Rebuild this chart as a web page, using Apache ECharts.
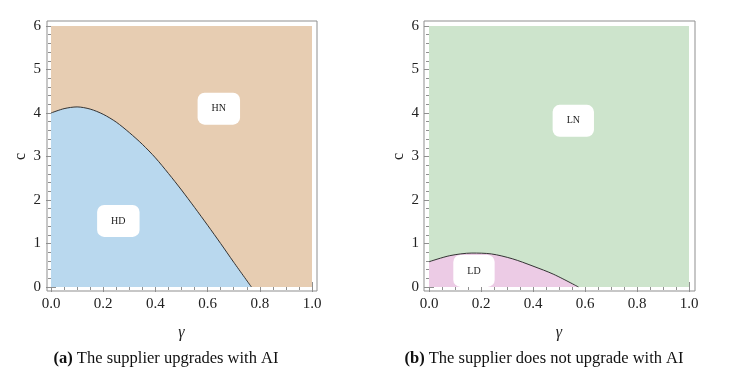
<!DOCTYPE html>
<html>
<head>
<meta charset="utf-8">
<script src="https://cdn.jsdelivr.net/npm/echarts@6/dist/echarts.min.js"></script>
<style>
  html, body { margin: 0; padding: 0; background: #fff; }
  #chart { width: 745px; height: 372px; }
</style>
</head>
<body>
<div id="chart"></div>
<script>
// region boundaries: [gamma, c]
var upgradeBoundary = [
  [0.00, 4.00], [0.05, 4.10], [0.10, 4.14], [0.15, 4.09], [0.20, 3.97],
  [0.25, 3.79], [0.30, 3.55], [0.35, 3.28], [0.40, 2.97], [0.45, 2.61],
  [0.50, 2.23], [0.55, 1.83], [0.60, 1.42], [0.65, 1.00], [0.70, 0.57],
  [0.768, 0.00]
]
var noUpgradeBoundary = [
  [0.00, 0.58], [0.08, 0.72], [0.165, 0.78], [0.24, 0.76], [0.32, 0.65],
  [0.40, 0.48], [0.48, 0.29], [0.575, 0.00]
]
// whole plot range (upper region)
var fullRange = [[0, 6], [1, 6]]
// region labels: [name, gamma, c]
var upgradeLabels = [["HN", 0.643, 4.1], ["HD", 0.258, 1.52]]
var noUpgradeLabels = [["LN", 0.555, 3.82], ["LD", 0.173, 0.37]]
var captions = [["(a)", "The supplier upgrades with AI"], ["(b)", "The supplier does not upgrade with AI"]]

var serif = "Liberation Serif"
var frameColor = "#8f8f8f"

var chart = echarts.init(document.getElementById("chart"))

// 两个子图的数据区与外框
var dataGrids = [
  { left: 51, top: 26, width: 261, height: 261 },
  { left: 429, top: 26, width: 260, height: 261 }
]
var frameGrids = [
  { left: 47, top: 21, width: 270, height: 270 },
  { left: 424, top: 21, width: 271, height: 270 }
]

var grids = [], xAxes = [], yAxes = []
dataGrids.forEach(function (g) { grids.push(Object.assign({ show: false }, g)) })
frameGrids.forEach(function (g) {
  grids.push(Object.assign({ show: true, borderColor: frameColor, borderWidth: 1, backgroundColor: "transparent" }, g))
})

function tickAxis(gridIndex, pos, offset, isX, showLabel) {
  var ax = {
    type: "value",
    gridIndex: gridIndex,
    position: pos,
    offset: offset,
    min: 0,
    max: isX ? 1 : 6,
    interval: isX ? 0.2 : 1,
    axisLine: { show: false },
    splitLine: { show: false },
    axisTick: { show: true, inside: true, length: 5, lineStyle: { color: frameColor, width: 1 } },
    minorTick: { show: true, splitNumber: isX ? 4 : 5, length: 3, lineStyle: { color: frameColor, width: 1 } },
    axisLabel: {
      show: showLabel,
      margin: 6,
      color: "#222",
      fontFamily: serif,
      fontSize: 15,
      formatter: function (v) { return isX ? v.toFixed(1) : String(v) }
    }
  }
  if (showLabel) {
    ax.name = isX ? "γ" : "c"
    ax.nameLocation = "middle"
    ax.nameGap = isX ? 34 : 18
    ax.nameTextStyle = { fontFamily: serif, fontSize: 16, color: "#222", fontStyle: isX ? "italic" : "normal" }
  }
  return ax
}

for (var i = 0; i < 2; i++) {
  xAxes.push(tickAxis(i, "bottom", 4, true, true))
  xAxes.push(tickAxis(i, "top", 5, true, false))
  yAxes.push(tickAxis(i, "left", 4, false, true))
  yAxes.push(tickAxis(i, "right", i === 0 ? 5 : 6, false, false))
}
// hidden axes for the frame grids
for (var j = 2; j < 4; j++) {
  xAxes.push({ type: "value", gridIndex: j, show: false, min: 0, max: 1 })
  yAxes.push({ type: "value", gridIndex: j, show: false, min: 0, max: 1 })
}

function region(axisIndex, data, color, withLine) {
  return {
    type: "line",
    xAxisIndex: axisIndex,
    yAxisIndex: axisIndex,
    data: data,
    smooth: 0.3,
    symbol: "none",
    silent: true,
    lineStyle: withLine ? { color: "#333", width: 1 } : { width: 0 },
    areaStyle: { color: color, opacity: 1 }
  }
}

function labels(axisIndex, list) {
  return {
    type: "scatter",
    xAxisIndex: axisIndex,
    yAxisIndex: axisIndex,
    symbolSize: 0,
    silent: true,
    z: 10,
    itemStyle: { opacity: 1 },
    data: list.map(function (l) { return { name: l[0], value: [l[1], l[2]] } }),
    label: {
      show: true,
      position: "inside",
      formatter: "{b}",
      fontFamily: serif,
      fontSize: 10,
      color: "#222",
      opacity: 1,
      backgroundColor: "#ffffff",
      borderRadius: 7,
      padding: [11, 14]
    }
  }
}

var option = {
  animation: false,
  backgroundColor: "#fff",
  grid: grids,
  xAxis: xAxes,
  yAxis: yAxes,
  series: [
    region(0, fullRange, "#e7cdb2", false),
    region(0, upgradeBoundary, "#b9d8ee", true),
    labels(0, upgradeLabels),
    region(2, fullRange, "#cde4cc", false),
    region(2, noUpgradeBoundary, "#eccbe5", true),
    labels(2, noUpgradeLabels)
  ],
  graphic: [
    {
      type: "text", x: 166, y: 359,
      style: {
        text: "{b|" + captions[0][0] + "} " + captions[0][1],
        align: "center", verticalAlign: "middle",
        font: "16.5px " + serif, fill: "#111",
        rich: { b: { fontFamily: serif, fontSize: 16.5, fontWeight: "bold", fill: "#111" } }
      }
    },
    {
      type: "text", x: 544, y: 359,
      style: {
        text: "{b|" + captions[1][0] + "} " + captions[1][1],
        align: "center", verticalAlign: "middle",
        font: "16.5px " + serif, fill: "#111",
        rich: { b: { fontFamily: serif, fontSize: 16.5, fontWeight: "bold", fill: "#111" } }
      }
    }
  ]
}

chart.setOption(option)
</script>
</body>
</html>
